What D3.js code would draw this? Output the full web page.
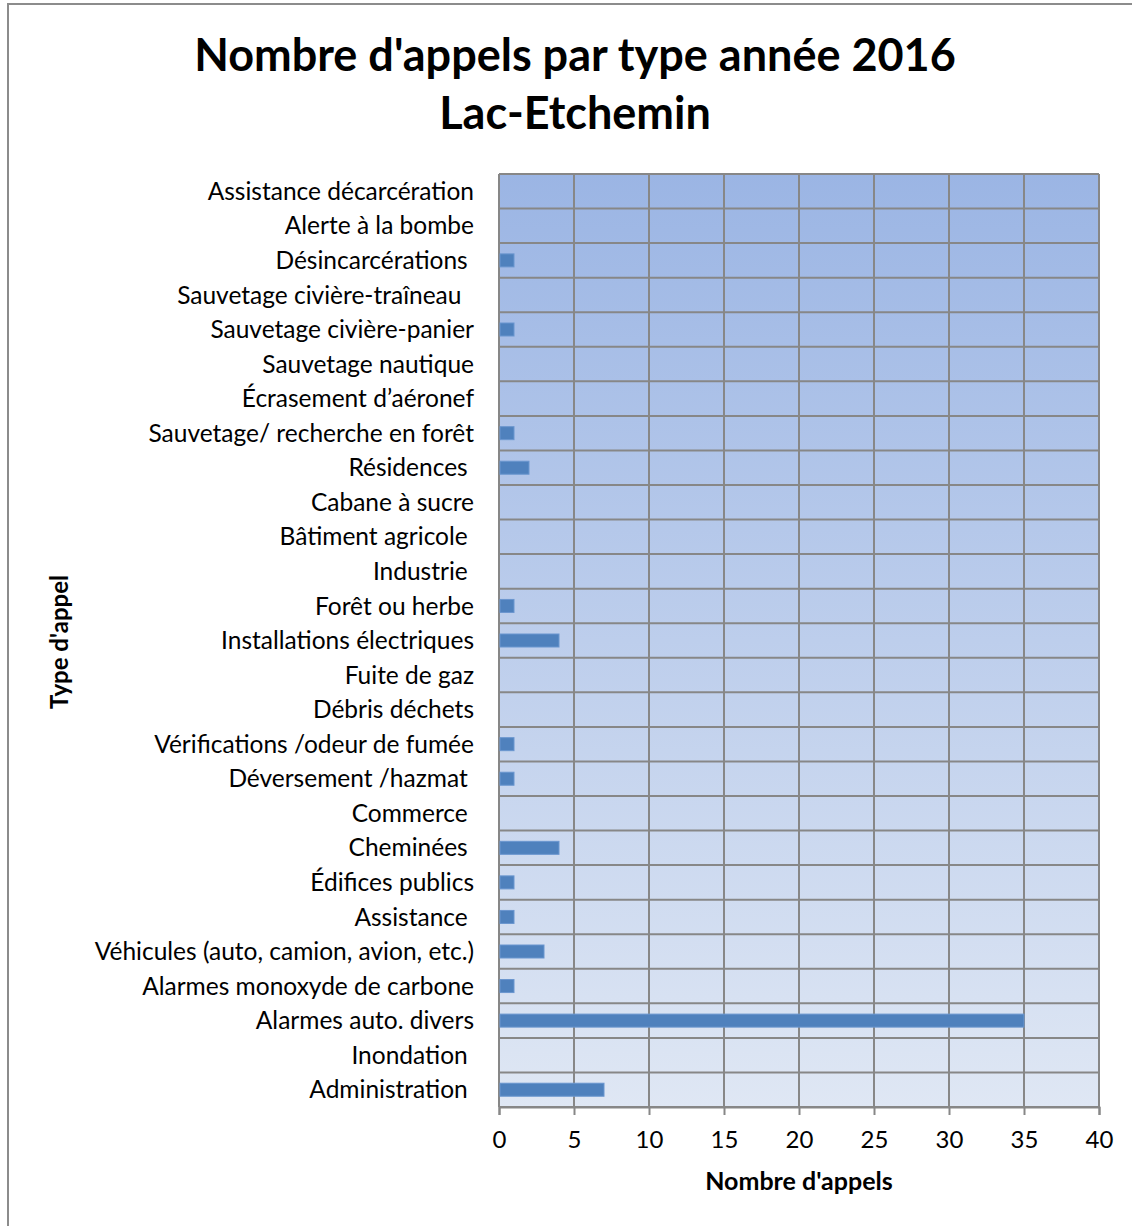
<!DOCTYPE html>
<html>
<head>
<meta charset="utf-8">
<script src="https://cdn.jsdelivr.net/npm/d3@7"></script>
<style>
body { margin: 0; background: #fff; }
text { font-family: Lato, "Open Sans", sans-serif; fill: #000; white-space: pre; }
</style>
</head>
<body>
<script>
// categories, top to bottom as in the picture (trailing spaces kept as in the source sheet)
var categories = [
	"Assistance décarcération",
	"Alerte à la bombe",
	"Désincarcérations ",
	"Sauvetage civière-traîneau  ",
	"Sauvetage civière-panier",
	"Sauvetage nautique",
	"Écrasement d’aéronef",
	"Sauvetage/ recherche en forêt",
	"Résidences ",
	"Cabane à sucre",
	"Bâtiment agricole ",
	"Industrie ",
	"Forêt ou herbe",
	"Installations électriques",
	"Fuite de gaz",
	"Débris déchets",
	"Vérifications /odeur de fumée",
	"Déversement /hazmat ",
	"Commerce ",
	"Cheminées ",
	"Édifices publics",
	"Assistance ",
	"Véhicules (auto, camion, avion, etc.)",
	"Alarmes monoxyde de carbone",
	"Alarmes auto. divers",
	"Inondation ",
	"Administration "
];
var appels = [0, 0, 1, 0, 1, 0, 0, 1, 2, 0, 0, 0, 1, 4, 0, 0, 1, 1, 0, 4, 1, 1, 3, 1, 35, 0, 7];
var xTicks = [0, 5, 10, 15, 20, 25, 30, 35, 40];

var W = 1132, H = 1226;
var margin = { top: 174, right: 33, bottom: 119, left: 499 };
var width = W - margin.left - margin.right,
	height = H - margin.top - margin.bottom;

var svg = d3.select("body").append("svg")
	.attr("width", W)
	.attr("height", H);

// outer chart border
svg.append("rect")
	.attr("x", 8).attr("y", 4)
	.attr("width", W + 10).attr("height", H + 10)
	.attr("fill", "#fff")
	.attr("stroke", "#8c8c8c")
	.attr("stroke-width", 2);

var defs = svg.append("defs");
var grad = defs.append("linearGradient")
	.attr("id", "bg")
	.attr("x1", 0).attr("y1", 0).attr("x2", 0).attr("y2", 1);
grad.append("stop").attr("offset", "0%").attr("stop-color", "#9bb5e4");
grad.append("stop").attr("offset", "100%").attr("stop-color", "#dfe7f4");

var g = svg.append("g")
	.attr("transform", "translate(" + margin.left + "," + margin.top + ")");

var x = d3.scaleLinear().domain([0, 40]).range([0, width]);
var y = d3.scaleBand().domain(categories).range([0, height]);

g.append("rect")
	.attr("width", width)
	.attr("height", height)
	.attr("fill", "url(#bg)");

// vertical gridlines
g.selectAll(".vgrid")
	.data(xTicks)
	.enter().append("line")
	.attr("class", "vgrid")
	.attr("x1", d => x(d)).attr("x2", d => x(d))
	.attr("y1", 0).attr("y2", height)
	.attr("stroke", "#878787")
	.attr("stroke-width", 2);

// horizontal gridlines between categories
var hLines = categories.map(c => y(c)).concat([height]);
g.selectAll(".hgrid")
	.data(hLines)
	.enter().append("line")
	.attr("class", "hgrid")
	.attr("x1", 0).attr("x2", width)
	.attr("y1", d => d).attr("y2", d => d)
	.attr("stroke", "#878787")
	.attr("stroke-width", 2);

// bars
var barH = 13;
g.selectAll(".bar")
	.data(categories)
	.enter().append("rect")
	.attr("class", "bar")
	.attr("x", x(0) + 1)
	.attr("y", d => y(d) + y.bandwidth() / 2 - barH / 2)
	.attr("width", (d, i) => Math.max(0, x(appels[i]) - x(0) - 1))
	.attr("height", barH)
	.attr("fill", "#4f81bd")
	.attr("stroke", "#6a96cf")
	.attr("stroke-width", 1)
	.style("display", (d, i) => appels[i] > 0 ? null : "none");

// x axis
var xAxis = g.append("g")
	.attr("transform", "translate(0," + height + ")")
	.call(d3.axisBottom(x).tickValues(xTicks).tickSize(8).tickPadding(16));
xAxis.select(".domain").attr("stroke", "#878787").attr("stroke-width", 2);
xAxis.selectAll(".tick line").attr("stroke", "#878787").attr("stroke-width", 2);
xAxis.selectAll(".tick text")
	.attr("font-size", 24)
	.attr("font-family", "Lato, sans-serif")
	.attr("fill", "#000");

// category labels
g.selectAll(".cat")
	.data(categories)
	.enter().append("text")
	.attr("class", "cat")
	.attr("x", -25)
	.attr("y", d => y(d) + y.bandwidth() / 2)
	.attr("dy", "0.35em")
	.attr("text-anchor", "end")
	.attr("font-size", 24.5)
	.text(d => d);

// titles
svg.append("text")
	.attr("x", 575).attr("y", 71)
	.attr("text-anchor", "middle")
	.attr("font-size", 45)
	.attr("font-weight", "bold")
	.text("Nombre d'appels par type année 2016");
svg.append("text")
	.attr("x", 575).attr("y", 129)
	.attr("text-anchor", "middle")
	.attr("font-size", 45)
	.attr("font-weight", "bold")
	.text("Lac-Etchemin");

svg.append("text")
	.attr("x", margin.left + width / 2).attr("y", 1190)
	.attr("text-anchor", "middle")
	.attr("font-size", 25)
	.attr("font-weight", "bold")
	.text("Nombre d'appels");

svg.append("text")
	.attr("transform", "translate(68,642) rotate(-90)")
	.attr("text-anchor", "middle")
	.attr("font-size", 24)
	.attr("font-weight", "bold")
	.text("Type d'appel");
</script>
</body>
</html>
